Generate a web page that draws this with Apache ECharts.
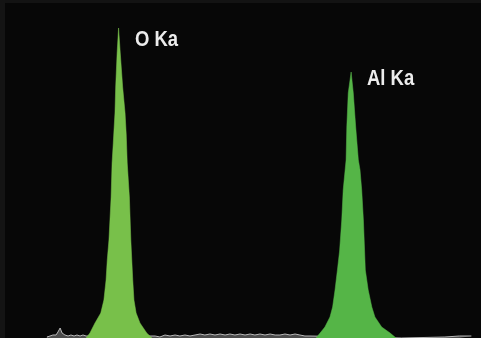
<!DOCTYPE html>
<html>
<head>
<meta charset="utf-8">
<script src="https://cdn.jsdelivr.net/npm/echarts@6/dist/echarts.min.js"></script>
<style>
html,body{margin:0;padding:0;background:#070707;}
#c{width:481px;height:338px;}
</style>
</head>
<body>
<div id="c"></div>
<script>
// Energy (keV) and counts
var oEnergy = [0.388,0.404,0.425,0.449,0.462,0.471,0.476,0.483,0.492,0.496,0.501,0.504,0.508,0.511,0.517,0.523,0.530,0.540,0.550,0.555,0.559,0.568,0.574,0.578,0.582,0.587,0.596,0.612,0.640,0.662];
var oCounts = [0,50,150,250,380,580,780,980,1410,1750,1950,2080,2250,2510,2850,3100,2850,2510,2250,2030,1750,1410,980,780,580,380,250,150,50,0];

var alEnergy = [1.344,1.361,1.381,1.402,1.413,1.423,1.433,1.442,1.451,1.457,1.465,1.469,1.472,1.478,1.490,1.499,1.509,1.520,1.527,1.534,1.541,1.546,1.549,1.561,1.576,1.589,1.617,1.652,1.677];
var alCounts = [0,50,110,210,310,480,680,870,1180,1480,1680,1780,2110,2450,2660,2450,2110,1780,1680,1480,1180,870,680,480,310,210,110,50,0];

var noiseEnergy = [0.225,0.238,0.250,0.263,0.271,0.280,0.288,0.300,0.313,0.325,0.338,0.350,0.363,0.375,0.388,0.675,0.695,0.716,0.737,0.758,0.778,0.799,0.820,0.841,0.862,0.882,0.903,0.924,0.945,0.966,0.986,1.007,1.028,1.049,1.070,1.090,1.111,1.132,1.153,1.174,1.194,1.215,1.236,1.257,1.277,1.298,1.319,1.700,1.880,1.940,1.990];
var noiseCounts = [10,20,30,30,60,100,50,30,20,30,20,30,20,30,20,20,10,30,20,30,20,30,20,30,40,30,40,30,40,30,40,30,40,30,40,30,40,30,40,30,30,40,30,40,30,20,20,0,10,20,20];

var peakLabels = ['O Ka','Al Ka'];

function pairs(xs, ys){ return xs.map(function(x,i){ return [x, ys[i]]; }); }

var labelFont = 'bold 22px "Liberation Sans", Arial, sans-serif';
var chart = echarts.init(document.getElementById('c'), null, {renderer:'canvas'});
chart.setOption({
  backgroundColor: '#070707',
  animation: false,
  grid: {left:0, right:0, top:0, bottom:0},
  xAxis: {type:'value', min:0.03, max:2.03, show:false},
  yAxis: {type:'value', min:0, max:3380, show:false},
  graphic: [
    {type:'rect', left:0, top:0, shape:{width:481, height:3}, style:{fill:'#131313'}, silent:true},
    {type:'rect', left:0, top:0, shape:{width:5, height:338}, style:{fill:'#141414'}, silent:true},
    {type:'text', x:135, y:29, scaleX:0.84, style:{text:peakLabels[0], fill:'#ececec', font:labelFont}},
    {type:'text', x:367, y:68, scaleX:0.84, style:{text:peakLabels[1], fill:'#ececec', font:labelFont}}
  ],
  series: [
    {type:'line', data:pairs(noiseEnergy, noiseCounts), showSymbol:false, z:1,
     lineStyle:{color:'#b8b8b8', width:1}, areaStyle:{color:'#6a6a6a', opacity:0.7}},
    {type:'line', data:pairs(oEnergy, oCounts), showSymbol:false, z:2,
     lineStyle:{color:'#7cc44c', width:0.5}, areaStyle:{color:'#78c04a', opacity:1}},
    {type:'line', data:pairs(alEnergy, alCounts), showSymbol:false, z:2,
     lineStyle:{color:'#58b84a', width:0.5}, areaStyle:{color:'#55b547', opacity:1}}
  ]
});
</script>
</body>
</html>
